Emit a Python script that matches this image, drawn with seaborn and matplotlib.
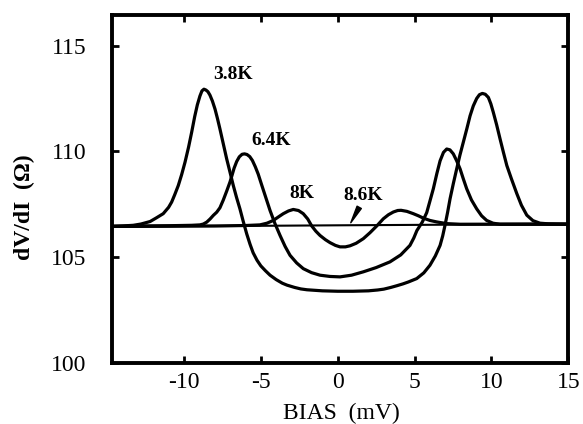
import matplotlib
matplotlib.use("Agg")
import matplotlib.pyplot as plt
import seaborn as sns
import pandas as pd

# Differential resistance vs bias at four temperatures
bias_38 = [-14.7, -14.0, -13.3, -12.8, -12.2, -11.8, -11.35, -11.0, -10.8, -10.6,
           -10.37, -10.15, -9.93, -9.7, -9.5, -9.3, -9.13, -8.96, -8.83, -8.7,
           -8.57, -8.44, -8.31, -8.15, -7.98, -7.82, -7.66, -7.44, -7.22, -7.0,
           -6.79, -6.58, -6.36, -6.15, -5.92, -5.7, -5.5, -5.25, -5.0, -4.7,
           -4.4, -4.0, -3.6, -3.3, -2.8, -2.4, -2.0, -1.0, 0.0, 1.0,
           2.0, 2.6, 3.0, 3.45, 3.84, 4.25, 4.6, 5.14, 5.6, 6.0,
           6.35, 6.66, 6.83, 6.98, 7.15, 7.31, 7.52, 7.74, 7.95, 8.17,
           8.4, 8.61, 8.82, 9.04, 9.22, 9.41, 9.6, 9.8, 9.96, 10.12,
           10.34, 10.56, 10.78, 11.0, 11.3, 11.65, 11.95, 12.3, 12.7, 13.16,
           13.7, 14.25, 15.0]
dvdi_38 = [106.45, 106.47, 106.5, 106.56, 106.68, 106.85, 107.05, 107.35, 107.6, 107.95,
           108.38, 108.9, 109.49, 110.2, 110.9, 111.65, 112.2, 112.62, 112.86, 112.94,
           112.9, 112.82, 112.66, 112.38, 112.0, 111.55, 111.06, 110.35, 109.64, 109.0,
           108.38, 107.82, 107.28, 106.7, 106.1, 105.6, 105.2, 104.85, 104.58, 104.35,
           104.14, 103.93, 103.76, 103.67, 103.56, 103.49, 103.45, 103.4, 103.38, 103.38,
           103.4, 103.44, 103.48, 103.56, 103.64, 103.73, 103.82, 103.98, 104.25, 104.61,
           105.05, 105.55, 106.0, 106.5, 107.12, 107.76, 108.47, 109.17, 109.82, 110.43,
           111.07, 111.68, 112.15, 112.5, 112.68, 112.74, 112.7, 112.55, 112.25, 111.85,
           111.25, 110.59, 109.95, 109.33, 108.7, 108.0, 107.45, 106.98, 106.72, 106.6,
           106.57, 106.56, 106.55]

bias_64 = [-14.7, -11.0, -9.5, -8.96, -8.74, -8.52, -8.3, -8.09, -7.87, -7.66,
           -7.44, -7.22, -7.01, -6.88, -6.74, -6.57, -6.4, -6.22, -6.06, -5.9,
           -5.72, -5.55, -5.36, -5.17, -4.94, -4.67, -4.4, -4.08, -3.75, -3.42,
           -3.1, -2.67, -2.24, -1.7, -1.15, -0.5, 0.15, 0.9, 1.67, 2.5,
           3.4, 4.1, 4.7, 4.95, 5.15, 5.5, 5.79, 6.0, 6.22, 6.45,
           6.66, 6.88, 7.09, 7.3, 7.52, 7.74, 7.96, 8.17, 8.39, 8.7,
           9.04, 9.36, 9.69, 10.1, 10.56, 12.0, 15.0]
dvdi_64 = [106.45, 106.48, 106.5, 106.52, 106.56, 106.65, 106.8, 106.97, 107.12, 107.33,
           107.7, 108.12, 108.54, 108.85, 109.2, 109.52, 109.74, 109.86, 109.88, 109.85,
           109.75, 109.57, 109.27, 108.92, 108.4, 107.8, 107.2, 106.58, 106.02, 105.5,
           105.08, 104.72, 104.45, 104.26, 104.14, 104.08, 104.06, 104.14, 104.3, 104.5,
           104.77, 105.1, 105.55, 105.9, 106.25, 106.65, 107.1, 107.65, 108.23, 108.95,
           109.55, 109.95, 110.11, 110.07, 109.88, 109.55, 109.17, 108.7, 108.23, 107.7,
           107.28, 106.95, 106.73, 106.6, 106.55, 106.55, 106.55]

bias_80 = [-14.7, -8.0, -6.0, -5.06, -4.6, -4.19, -3.85, -3.54, -3.2, -2.89,
           -2.55, -2.24, -1.95, -1.69, -1.42, -1.15, -0.8, -0.5, -0.15, 0.15,
           0.5, 0.8, 1.2, 1.67, 2.1, 2.54, 2.97, 3.3, 3.62, 3.9,
           4.12, 4.5, 4.92, 5.25, 5.57, 6.0, 6.44, 7.09, 7.96, 15.0]
dvdi_80 = [106.45, 106.47, 106.49, 106.52, 106.6, 106.73, 106.9, 107.05, 107.18, 107.25,
           107.2, 107.05, 106.8, 106.47, 106.22, 106.02, 105.82, 105.68, 105.55, 105.48,
           105.48, 105.53, 105.65, 105.87, 106.15, 106.47, 106.81, 107.0, 107.13, 107.2,
           107.21, 107.16, 107.05, 106.95, 106.84, 106.73, 106.66, 106.58, 106.55, 106.56]

bias_86 = [-14.7, 0.0, 15.0]
dvdi_86 = [106.43, 106.5, 106.56]

temp_labels = ["3.8K", "6.4K", "8K", "8.6K"]
label_x = [-6.8, -4.3, -2.35, 1.65]
label_y = [113.65, 110.5, 108.0, 107.9]

x_ticks = [-10, -5, 0, 5, 10, 15]
y_ticks = [100, 105, 110, 115]

sns.set_style("ticks")
plt.rcParams["font.family"] = ["Liberation Serif", "DejaVu Serif"]
plt.rcParams["axes.unicode_minus"] = False
plt.rcParams["text.color"] = "black"
plt.rcParams["axes.labelcolor"] = "black"
plt.rcParams["xtick.color"] = "black"
plt.rcParams["ytick.color"] = "black"

fig = plt.figure(figsize=(5.83, 4.24), dpi=100)
ax = fig.add_axes([0.1916, 0.1446, 0.7832, 0.82])

curves = [(bias_38, dvdi_38, 2.3), (bias_64, dvdi_64, 2.3),
          (bias_80, dvdi_80, 2.3), (bias_86, dvdi_86, 1.5)]
for bx, by, lw in curves:
    df = pd.DataFrame({"bias": bx, "dvdi": by})
    sns.lineplot(data=df, x="bias", y="dvdi", ax=ax, color="black",
                 linewidth=lw, estimator=None, sort=False)

for txt, tx, ty in zip(temp_labels, label_x, label_y):
    ax.text(tx, ty, txt, fontsize=14, fontweight="bold",
            ha="center", va="center", color="black")

# small pointer from the 8.6K label down to its flat trace
ax.annotate("", xy=(0.85, 106.62), xytext=(1.4, 107.35),
            arrowprops=dict(arrowstyle="wedge,tail_width=0.35", color="black",
                            shrinkA=0, shrinkB=0))

ax.set_xlim(-14.7, 15)
ax.set_ylim(100, 116.45)
ax.set_xticks(x_ticks)
ax.set_yticks(y_ticks)

ax.tick_params(axis="both", direction="in", length=5, width=2,
               top=True, right=True, labelsize=17, colors="black")
ax.tick_params(axis="x", pad=7)
ax.tick_params(axis="y", pad=18)

for sp in ax.spines.values():
    sp.set_visible(True)
    sp.set_linewidth(2.8)
    sp.set_color("black")

ax.set_xlabel("BIAS  (mV)", fontsize=17, va="center", ha="center")
ax.xaxis.set_label_coords(0.502, -0.145)
ax.set_ylabel("dV/dI  (Ω)", fontsize=17, fontweight="bold", va="center", ha="center")
ax.yaxis.set_label_coords(-0.19, 0.448)

fig.savefig("out.png", dpi=100)
